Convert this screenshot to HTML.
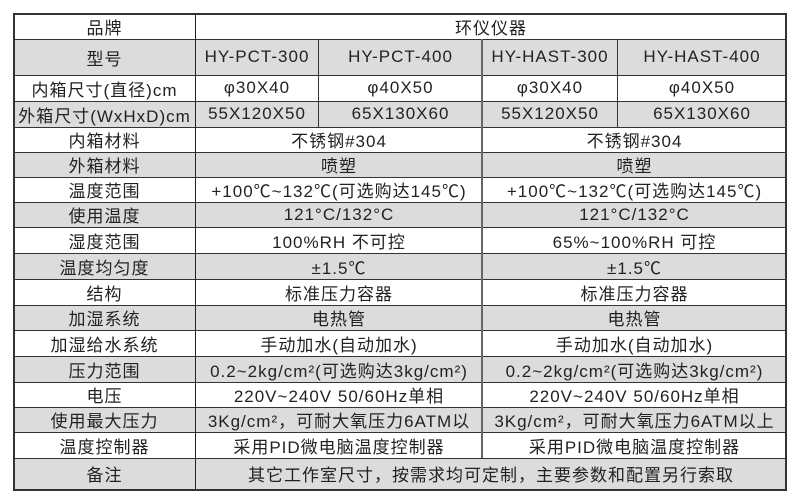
<!DOCTYPE html>
<html><head><meta charset="utf-8">
<style>
html,body{margin:0;padding:0;background:#fff;}
body{width:800px;height:503px;position:relative;overflow:hidden;font-family:"Liberation Sans","Noto Sans CJK SC",sans-serif;color:#222;}
.bg{position:absolute;background:#dcdcdc;}
.c{position:absolute;display:flex;align-items:center;justify-content:center;font-size:17px;letter-spacing:1px;white-space:nowrap;overflow:hidden;}
.h{position:absolute;height:1px;background:#333;}
.v{position:absolute;width:1px;background:#333;}
</style></head><body>
<div id="t"></div>
<script>
var Y=[13,39,75,101,127,152,177,202,227,253,279,305,330,356,382,407,432,458,489];
var rows=[
["品牌",["环仪仪器"]],
["型号",["HY-PCT-300","HY-PCT-400","HY-HAST-300","HY-HAST-400"]],
["内箱尺寸(直径)cm",["φ30X40","φ40X50","φ30X40","φ40X50"]],
["外箱尺寸(WxHxD)cm",["55X120X50","65X130X60","55X120X50","65X130X60"]],
["内箱材料",["不锈钢#304","不锈钢#304"]],
["外箱材料",["喷塑","喷塑"]],
["温度范围",["+100℃~132℃(可选购达145℃)","+100℃~132℃(可选购达145℃)"]],
["使用温度",["121°C/132°C","121°C/132°C"]],
["湿度范围",["100%RH 不可控","65%~100%RH 可控"]],
["温度均匀度",["±1.5℃","±1.5℃"]],
["结构",["标准压力容器","标准压力容器"]],
["加湿系统",["电热管","电热管"]],
["加湿给水系统",["手动加水(自动加水)","手动加水(自动加水)"]],
["压力范围",["0.2~2kg/cm²(可选购达3kg/cm²)","0.2~2kg/cm²(可选购达3kg/cm²)"]],
["电压",["220V~240V 50/60Hz单相","220V~240V 50/60Hz单相"]],
["使用最大压力",["3Kg/cm²，可耐大氧压力6ATM以","3Kg/cm²，可耐大氧压力6ATM以上"]],
["温度控制器",["采用PID微电脑温度控制器","采用PID微电脑温度控制器"]],
["备注",["其它工作室尺寸，按需求均可定制，主要参数和配置另行索取"]]
];
var h="";
var L=13,R=786;
for(var i=0;i<rows.length;i++){
  var y0=Y[i],y1=Y[i+1];
  if(i%2==1) h+='<div class="bg" style="left:'+L+'px;top:'+y0+'px;width:'+(R-L)+'px;height:'+(y1-y0)+'px"></div>';
  var xs;
  var n=rows[i][1].length;
  if(n==1) xs=[13,195,786];
  else if(n==2) xs=[13,195,482,786];
  else xs=[13,195,318,482,617,786];
  var cells=[rows[i][0]].concat(rows[i][1]);
  for(var j=0;j<cells.length;j++){
    h+='<div class="c" style="left:'+(xs[j]+1)+'px;top:'+y0+'px;width:'+(xs[j+1]-xs[j]-1)+'px;height:'+(y1-y0)+'px">'+cells[j]+'</div>';
  }
}
for(var k=0;k<Y.length;k++){
  var w=(k==0||k==Y.length-1)?2:1;
  h+='<div class="h" style="left:13px;top:'+Y[k]+'px;width:'+(R-L+1)+'px;height:'+w+'px"></div>';
}
h+='<div class="v" style="left:13px;top:13px;height:'+(489-13+1)+'px;width:2px"></div>';
h+='<div class="v" style="left:785px;top:13px;height:'+(489-13+1)+'px;width:2px"></div>';
h+='<div class="v" style="left:195px;top:13px;height:'+(489-13)+'px;width:1px;background:#222"></div>';
h+='<div class="v" style="left:318px;top:39px;height:'+(127-39)+'px"></div>';
h+='<div class="v" style="left:617px;top:39px;height:'+(127-39)+'px"></div>';
h+='<div class="v" style="left:481px;top:39px;height:'+(458-39)+'px;width:2px;background:#666"></div>';
document.getElementById("t").innerHTML=h;
</script>
</body></html>
